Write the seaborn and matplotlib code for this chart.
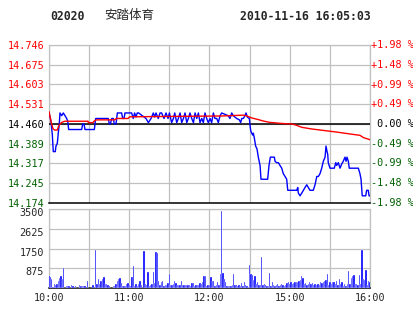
import matplotlib
matplotlib.use("Agg")
import matplotlib.pyplot as plt
import matplotlib.transforms as mtransforms
import seaborn as sns
import pandas as pd

# ---------------- data ----------------
stock_code = "02020"
stock_name = "安踏体育"
timestamp = "2010-11-16 16:05:03"
prev_close = 14.460

price_ticks = [14.174, 14.245, 14.317, 14.389, 14.460, 14.531, 14.603, 14.675, 14.746]
price_tick_labels = ["14.174", "14.245", "14.317", "14.389", "14.460",
                     "14.531", "14.603", "14.675", "14.746"]
pct_labels = ["-1.98 %", "-1.48 %", "-0.99 %", "-0.49 %", "0.00 %",
              "+0.49 %", "+0.99 %", "+1.48 %", "+1.98 %"]
vol_ticks = [875, 1750, 2625, 3500]
vol_tick_labels = ["875", "1750", "2625", "3500"]
time_ticks = [0, 30, 60, 90, 120, 150, 180, 210, 240]
time_labels = ["10:00", "", "11:00", "", "12:00", "", "15:00", "", "16:00"]

# trade price (minutes since 10:00, trading time)
price_min = [0, 1.5, 2.5, 3.2, 4.7, 5.2, 6.2, 7.0, 7.7, 8.2, 9.5, 10.7, 12.0, 13.2, 14.0, 14.7,
             24.4, 25.2, 26.2, 26.9, 33.9, 34.9, 44.3, 45.1, 45.9, 46.9, 48.1, 48.8, 50.1, 51.1,
             54.3, 55.1, 56.1, 56.8, 61.8, 63.0, 64.0, 65.0, 66.0, 67.0, 72.5, 74.3, 76.3, 78.0,
             79.0, 80.0, 81.7, 83.0, 84.2, 86.0, 87.5, 89.0, 90.0, 91.7, 93.0, 94.0, 95.5, 96.7,
             98.0, 99.2, 100.5, 101.7, 103.0, 104.2, 105.4, 106.7, 108.0, 109.2, 110.5, 111.7,
             112.9, 114.2, 115.4, 116.6, 117.9, 119.1, 120.4, 121.6, 122.9, 124.1, 125.4, 126.6,
             127.9, 129.1, 134.0, 135.3, 136.6, 137.8, 140.3, 142.3, 143.3, 144.1, 145.3, 146.5,
             147.3, 148.3, 149.8, 150.3, 150.8, 151.5, 152.3, 152.7, 153.5, 154.5, 155.5, 156.5,
             157.8, 158.5, 163.5, 164.5, 165.5, 168.5, 169.0, 170.2, 171.5, 172.7, 174.0, 175.2,
             176.5, 177.7, 178.5, 185.2, 186.0, 186.4, 187.7, 189.0, 190.2, 191.4, 192.7, 193.9,
             195.1, 197.6, 198.9, 200.2, 201.4, 202.6, 203.9, 205.1, 206.4, 207.1, 207.9, 208.4,
             208.8, 210.1, 213.3, 214.4, 215.1, 216.3, 217.6, 218.8, 220.0, 221.3, 222.1, 222.8,
             223.8, 224.5, 231.3, 232.5, 233.3, 234.2, 236.8, 237.5, 238.7, 239.3, 240.0]
price_val = [14.50, 14.47, 14.42, 14.36, 14.36, 14.38, 14.39, 14.43, 14.46, 14.50, 14.49, 14.50, 14.49, 14.48, 14.47, 14.44,
             14.44, 14.46, 14.46, 14.44, 14.44, 14.48, 14.48, 14.46, 14.46, 14.48, 14.48, 14.46, 14.46, 14.50,
             14.50, 14.48, 14.48, 14.50, 14.50, 14.48, 14.50, 14.485, 14.50, 14.50, 14.48, 14.465, 14.48, 14.50,
             14.485, 14.50, 14.48, 14.50, 14.50, 14.48, 14.50, 14.48, 14.50, 14.465, 14.48, 14.50, 14.465, 14.48,
             14.50, 14.465, 14.48, 14.50, 14.465, 14.48, 14.50, 14.48, 14.465, 14.50, 14.48, 14.50,
             14.465, 14.48, 14.465, 14.50, 14.48, 14.465, 14.48, 14.465, 14.50, 14.48, 14.48, 14.465,
             14.49, 14.50, 14.49, 14.48, 14.50, 14.49, 14.48, 14.475, 14.465, 14.48, 14.48, 14.49,
             14.50, 14.485, 14.48, 14.455, 14.436, 14.427, 14.42, 14.427, 14.41, 14.38, 14.37, 14.34,
             14.31, 14.26, 14.26, 14.31, 14.34, 14.34, 14.325, 14.32, 14.32, 14.31, 14.30, 14.28,
             14.27, 14.26, 14.22, 14.22, 14.23, 14.21, 14.20, 14.21, 14.22, 14.23, 14.24, 14.23,
             14.22, 14.22, 14.24, 14.27, 14.27, 14.28, 14.30, 14.325, 14.34, 14.38, 14.36, 14.35,
             14.32, 14.30, 14.30, 14.32, 14.31, 14.32, 14.30, 14.315, 14.325, 14.34, 14.325, 14.34,
             14.325, 14.30, 14.30, 14.28, 14.26, 14.20, 14.20, 14.22, 14.22, 14.20, 14.20]

# average price line
avg_min = [0, 1.7, 3.0, 4.2, 6.2, 7.2, 9.2, 11.7, 29.2, 29.4, 32.9, 33.6, 35.4, 49.1, 50.3,
           59.1, 60.3, 80.0, 129.0, 145.3, 147.5, 151.5, 156.5, 160.0, 165.0, 174.0, 181.5,
           184.0, 189.0, 196.4, 206.4, 216.3, 226.3, 232.5, 235.0, 240.0]
avg_val = [14.505, 14.465, 14.443, 14.438, 14.438, 14.453, 14.465, 14.470, 14.470, 14.465,
           14.465, 14.470, 14.475, 14.475, 14.480, 14.480, 14.486, 14.487, 14.489, 14.492,
           14.490, 14.482, 14.476, 14.471, 14.466, 14.462, 14.460, 14.457, 14.448, 14.442,
           14.436, 14.430, 14.423, 14.419, 14.411, 14.403]

# volume per minute, minutes 0..240
volume = [530, 480, 420, 60, 170, 140, 170, 300, 450, 530, 400,
          880, 0, 100, 100, 100, 0, 150, 100, 0, 100,
          0, 0, 150, 100, 100, 100, 100, 0, 310, 0,
          0, 0, 150, 0, 1690, 170, 390, 170, 330, 390,
          480, 170, 170, 140, 80, 0, 0, 80, 100, 170,
          330, 390, 430, 200, 100, 100, 100, 170, 200, 140,
          80, 490, 990, 100, 170, 110, 170, 330, 140, 0,
          1650, 170, 140, 730, 110, 140, 170, 700, 210, 1590,
          1550, 330, 140, 280, 330, 100, 140, 140, 210, 630,
          140, 140, 170, 330, 210, 140, 140, 140, 310, 140,
          140, 140, 140, 140, 140, 100, 240, 240, 80, 140,
          140, 140, 240, 170, 280, 530, 530, 80, 140, 140,
          500, 320, 320, 110, 140, 250, 140, 600, 3400, 670,
          390, 280, 110, 80, 80, 110, 140, 600, 140, 140,
          110, 140, 110, 220, 110, 250, 140, 80, 40, 1030,
          640, 560, 360, 530, 180, 250, 140, 140, 1360, 140,
          180, 140, 110, 110, 670, 110, 250, 140, 110, 140,
          180, 110, 140, 180, 140, 110, 140, 220, 280, 180,
          250, 180, 220, 250, 280, 250, 330, 360, 530, 460,
          180, 220, 140, 180, 250, 180, 220, 140, 180, 140,
          180, 140, 250, 220, 250, 330, 360, 600, 140, 250,
          180, 250, 280, 180, 330, 140, 390, 180, 250, 110,
          180, 110, 180, 740, 180, 460, 530, 560, 180, 180,
          140, 560, 180, 1700, 390, 360, 780, 140, 320, 250]
vol_min = list(range(len(volume)))

# ---------------- styling ----------------
sns.set_style("white")
plt.rcParams['font.family'] = ['DejaVu Sans Mono', 'Noto Sans CJK SC']

RED = "#FF0000"
GREEN = "#006000"
BLUE = "#0000FF"
GRID = "#C0C0C0"
FS = 7.3

W, H = 414, 314
fig = plt.figure(figsize=(W / 100, H / 100), dpi=100)
fig.patch.set_facecolor("white")
ax = fig.add_axes([49 / W, 1 - 203 / H, 321 / W, 158 / H])
axv = fig.add_axes([49 / W, 1 - 288 / H, 321 / W, 79 / H])

# ---- price panel ----
price_df = pd.DataFrame({"t": price_min, "p": price_val})
avg_df = pd.DataFrame({"t": avg_min, "p": avg_val})
sns.lineplot(data=price_df, x="t", y="p", ax=ax, color=BLUE, lw=1.0,
             sort=False, estimator=None, zorder=4)
sns.lineplot(data=avg_df, x="t", y="p", ax=ax, color=RED, lw=1.0,
             sort=False, estimator=None, zorder=5)

ax.set_xlim(0, 240)
ax.set_ylim(price_ticks[0], price_ticks[-1])
ax.set_xticks(time_ticks)
ax.set_xticklabels([])
ax.set_yticks(price_ticks)
ax.set_yticklabels(price_tick_labels, fontsize=FS)
ax.grid(True, color=GRID, lw=0.9, zorder=0)
ax.axhline(prev_close, color="black", lw=1.1, zorder=3)
ax.tick_params(axis="both", length=0, pad=3.5)
ax.set_xlabel("")
ax.set_ylabel("")
for lbl, v in zip(ax.get_yticklabels(), price_ticks):
    if abs(v - prev_close) < 1e-6:
        lbl.set_color("black")
    elif v > prev_close:
        lbl.set_color(RED)
    else:
        lbl.set_color(GREEN)
for s in ["left", "top", "right"]:
    ax.spines[s].set_color(GRID)
    ax.spines[s].set_linewidth(0.9)
ax.spines["bottom"].set_color("black")
ax.spines["bottom"].set_linewidth(1.1)

for v, lbl in zip(price_ticks, pct_labels):
    if abs(v - prev_close) < 1e-6:
        c = "black"
        txt = " " + lbl
    elif v > prev_close:
        c = RED
        txt = lbl
    else:
        c = GREEN
        txt = lbl
    ax.text(1.003, v, txt, transform=ax.get_yaxis_transform(), ha="left",
            va="center", color=c, fontsize=FS, clip_on=False)

# ---- volume panel ----
vol_df = pd.DataFrame({"t": vol_min, "v": volume})
sns.barplot(data=vol_df, x="t", y="v", native_scale=True, width=1.0,
            color=BLUE, saturation=1.0, edgecolor="white", linewidth=0.25,
            ax=axv, zorder=3)
axv.set_xlim(0, 240)
axv.set_ylim(0, 3500)
axv.set_xticks(time_ticks)
axv.set_xticklabels(time_labels, fontsize=FS)
axv.set_yticks(vol_ticks)
axv.set_yticklabels(vol_tick_labels, fontsize=FS)
axv.grid(True, color=GRID, lw=0.9, zorder=0)
axv.tick_params(axis="both", length=0, pad=3.5)
axv.set_xlabel("")
axv.set_ylabel("")
shift = mtransforms.ScaledTranslation(0, -3 / 100, fig.dpi_scale_trans)
for lbl in axv.get_yticklabels():
    lbl.set_transform(lbl.get_transform() + shift)
for s in ["left", "top", "right"]:
    axv.spines[s].set_color(GRID)
    axv.spines[s].set_linewidth(0.9)
axv.spines["bottom"].set_color("black")
axv.spines["bottom"].set_linewidth(1.1)

# ---- header ----
fig.text(50 / W, 1 - 16 / H, stock_code, fontsize=8.3, fontweight="bold",
         family="DejaVu Sans Mono", va="center", ha="left")
fig.text(104 / W, 1 - 16 / H, stock_name, fontsize=9, family="Noto Sans CJK SC",
         va="center", ha="left")
fig.text(371 / W, 1 - 16 / H, timestamp, fontsize=8.3, fontweight="bold",
         family="DejaVu Sans Mono", va="center", ha="right")

fig.savefig("out.png", dpi=100, facecolor="white")
